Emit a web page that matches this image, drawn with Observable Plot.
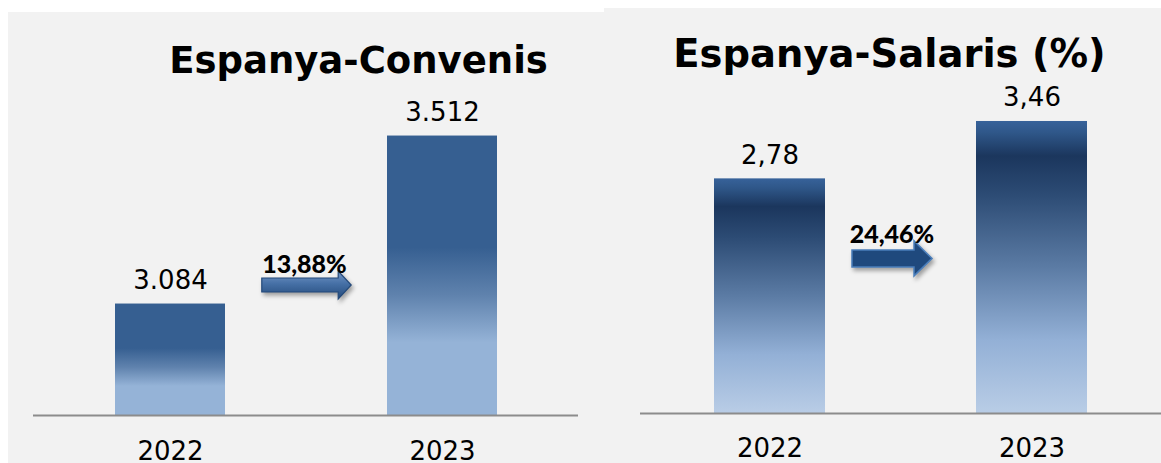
<!DOCTYPE html>
<html>
<head>
<meta charset="utf-8">
<script src="https://cdn.jsdelivr.net/npm/d3@7"></script>
<script src="https://cdn.jsdelivr.net/npm/@observablehq/plot@0.6"></script>
<style>
  html, body { margin: 0; padding: 0; background: #ffffff; width: 1161px; height: 463px; overflow: hidden; }
  #left { position: absolute; left: 8px; top: 12px; }
  #right { position: absolute; left: 604px; top: 8px; }
</style>
</head>
<body>
<div id="left"></div>
<div id="right"></div>
<script>
// ---- data ----
const years = ["2022", "2023"];
const convenisValues = [3084, 3512];
const salarisValues = [2.78, 3.46];
const titles = ["Espanya-Convenis", "Espanya-Salaris (%)"];
const convenisDomain = [2800, 3600];
const salarisDomain = [0, 4];

const ca = d3.formatLocale({decimal: ",", thousands: ".", grouping: [3], currency: ["", " €"], percent: "%"});
const fmtInt = ca.format(",.0f");
const fmtDec = ca.format(",.2f");
const fmtPct = ca.format(".2%");

const convenis = years.map((y, i) => ({year: y, value: convenisValues[i]}));
const salaris = years.map((y, i) => ({year: y, value: salarisValues[i]}));
const growth = arr => fmtPct((arr[1] - arr[0]) / arr[0]);

const FONT = "'DejaVu Sans', Verdana, sans-serif";

function defsMark(html) {
  return () => {
    const g = d3.create("svg:g");
    g.html(html);
    return g.node();
  };
}

function arrowMark(label, o) {
  return (index, scales, values, dims) => {
    const x = scales.x;
    let bw = typeof x.bandwidth === "function" ? x.bandwidth() : x.bandwidth;
    if (bw == null && scales.scales && scales.scales.x) bw = scales.scales.x.bandwidth;
    const gapL = x(years[0]) + bw, gapR = x(years[1]);
    const cx = (gapL + gapR) / 2 + o.dx;
    const len = (gapR - gapL) * o.lenFrac;
    const cy = dims.marginTop + o.fracY * (dims.height - dims.marginTop - dims.marginBottom);
    const x0 = cx - len / 2, x1 = cx + len / 2, s = o.shaft / 2, h = o.head / 2, hl = o.headLen;
    const g = d3.create("svg:g");
    g.append("path")
      .attr("d", `M${x0},${cy - s}L${x1 - hl},${cy - s}L${x1 - hl},${cy - h}L${x1},${cy}L${x1 - hl},${cy + h}L${x1 - hl},${cy + s}L${x0},${cy + s}Z`)
      .attr("fill", o.fill)
      .attr("stroke", o.stroke)
      .attr("stroke-width", o.strokeWidth)
      .attr("stroke-linejoin", "miter")
      .style("filter", "drop-shadow(2px 3px 2px rgba(0,0,0,0.35))");
    g.append("text")
      .attr("x", cx + o.labelDx)
      .attr("y", cy - o.labelGap)
      .attr("text-anchor", "middle")
      .attr("font-family", "Lato, 'Liberation Sans', sans-serif")
      .attr("font-weight", "900")
      .attr("font-size", 25)
      .attr("fill", "#000")
      .text(label);
    return g.node();
  };
}

const leftPlot = Plot.plot({
  width: 596,
  height: 451,
  marginLeft: 25,
  marginRight: 26,
  marginTop: 89,
  marginBottom: 48,
  style: {background: "#f2f2f2", fontFamily: FONT, color: "#000", overflow: "visible"},
  x: {type: "band", domain: years, paddingInner: 0.597, paddingOuter: 0.297, align: 0.5},
  y: {domain: convenisDomain, clamp: true, axis: null},
  marks: [
    defsMark(`<defs>
      <linearGradient id="gradL" x1="0" y1="0" x2="0" y2="1">
        <stop offset="0" stop-color="#365f91"/>
        <stop offset="0.40" stop-color="#365f91"/>
        <stop offset="0.57" stop-color="#5f82ad"/>
        <stop offset="0.74" stop-color="#95b3d7"/>
        <stop offset="1" stop-color="#95b3d7"/>
      </linearGradient>
      <linearGradient id="arrowL" x1="0" y1="0" x2="0" y2="1">
        <stop offset="0" stop-color="#7598c8"/>
        <stop offset="0.45" stop-color="#4670a6"/>
        <stop offset="1" stop-color="#244a7a"/>
      </linearGradient>
    </defs>`),
    Plot.barY(convenis, {x: "year", y: "value", fill: "url(#gradL)",
      style: "filter: drop-shadow(1px 1px 1.5px rgba(0,0,0,0.25))"}),
    Plot.ruleY([convenisDomain[0]], {stroke: "#8c8c8c", strokeWidth: 2}),
    Plot.text(convenis, {x: "year", y: "value", text: d => fmtInt(d.value), dy: -15, lineAnchor: "bottom", fontSize: 26, fill: "#000"}),
    Plot.axisX({tickSize: 0, tickPadding: 26, fontSize: 26, label: null, fill: "#000"}),
    Plot.text([titles[0]], {frameAnchor: "top", text: d => d, dx: 52.5, dy: -29, lineAnchor: "bottom", fontSize: 37, fontWeight: "bold", fill: "#000"}),
    arrowMark(growth(convenisValues), {dx: 0.5, lenFrac: 0.552, fracY: 0.586, shaft: 14, head: 28, headLen: 13,
      fill: "url(#arrowL)", stroke: "#23497a", strokeWidth: 1.2, labelGap: 12, labelDx: -2})
  ]
});

const rightPlot = Plot.plot({
  width: 557,
  height: 456,
  marginLeft: 36,
  marginRight: 0,
  marginTop: 67.4,
  marginBottom: 51,
  style: {background: "#f2f2f2", fontFamily: FONT, color: "#000", overflow: "visible"},
  x: {type: "band", domain: years, paddingInner: 0.576, paddingOuter: 0.282, align: 0.5},
  y: {domain: salarisDomain, clamp: true, axis: null},
  marks: [
    defsMark(`<defs>
      <linearGradient id="gradR" x1="0" y1="0" x2="0" y2="1">
        <stop offset="0" stop-color="#37629a"/>
        <stop offset="0.04" stop-color="#2f5789"/>
        <stop offset="0.12" stop-color="#1b365d"/>
        <stop offset="0.25" stop-color="#2c4b74"/>
        <stop offset="0.5" stop-color="#5b7ba4"/>
        <stop offset="0.75" stop-color="#93b0d6"/>
        <stop offset="1" stop-color="#b9cde6"/>
      </linearGradient>
    </defs>`),
    Plot.barY(salaris, {x: "year", y: "value", fill: "url(#gradR)"}),
    Plot.ruleY([salarisDomain[0]], {stroke: "#8c8c8c", strokeWidth: 2}),
    Plot.text(salaris, {x: "year", y: "value", text: d => fmtDec(d.value), dy: -15, lineAnchor: "bottom", fontSize: 26, fill: "#000"}),
    Plot.axisX({tickSize: 0, tickPadding: 25, fontSize: 26, label: null, fill: "#000"}),
    Plot.text([titles[1]], {frameAnchor: "top", text: d => d, dx: -11.5, dy: -9.4, lineAnchor: "bottom", fontSize: 38.5, fontWeight: "bold", fill: "#000"}),
    arrowMark(growth(salarisValues), {dx: -8.5, lenFrac: 0.53, fracY: 0.542, shaft: 17, head: 35, headLen: 18,
      fill: "#1f497d", stroke: "#4a7ebb", strokeWidth: 1.5, labelGap: 15.5, labelDx: 0})
  ]
});

document.getElementById("left").appendChild(leftPlot);
document.getElementById("right").appendChild(rightPlot);
</script>
</body>
</html>
